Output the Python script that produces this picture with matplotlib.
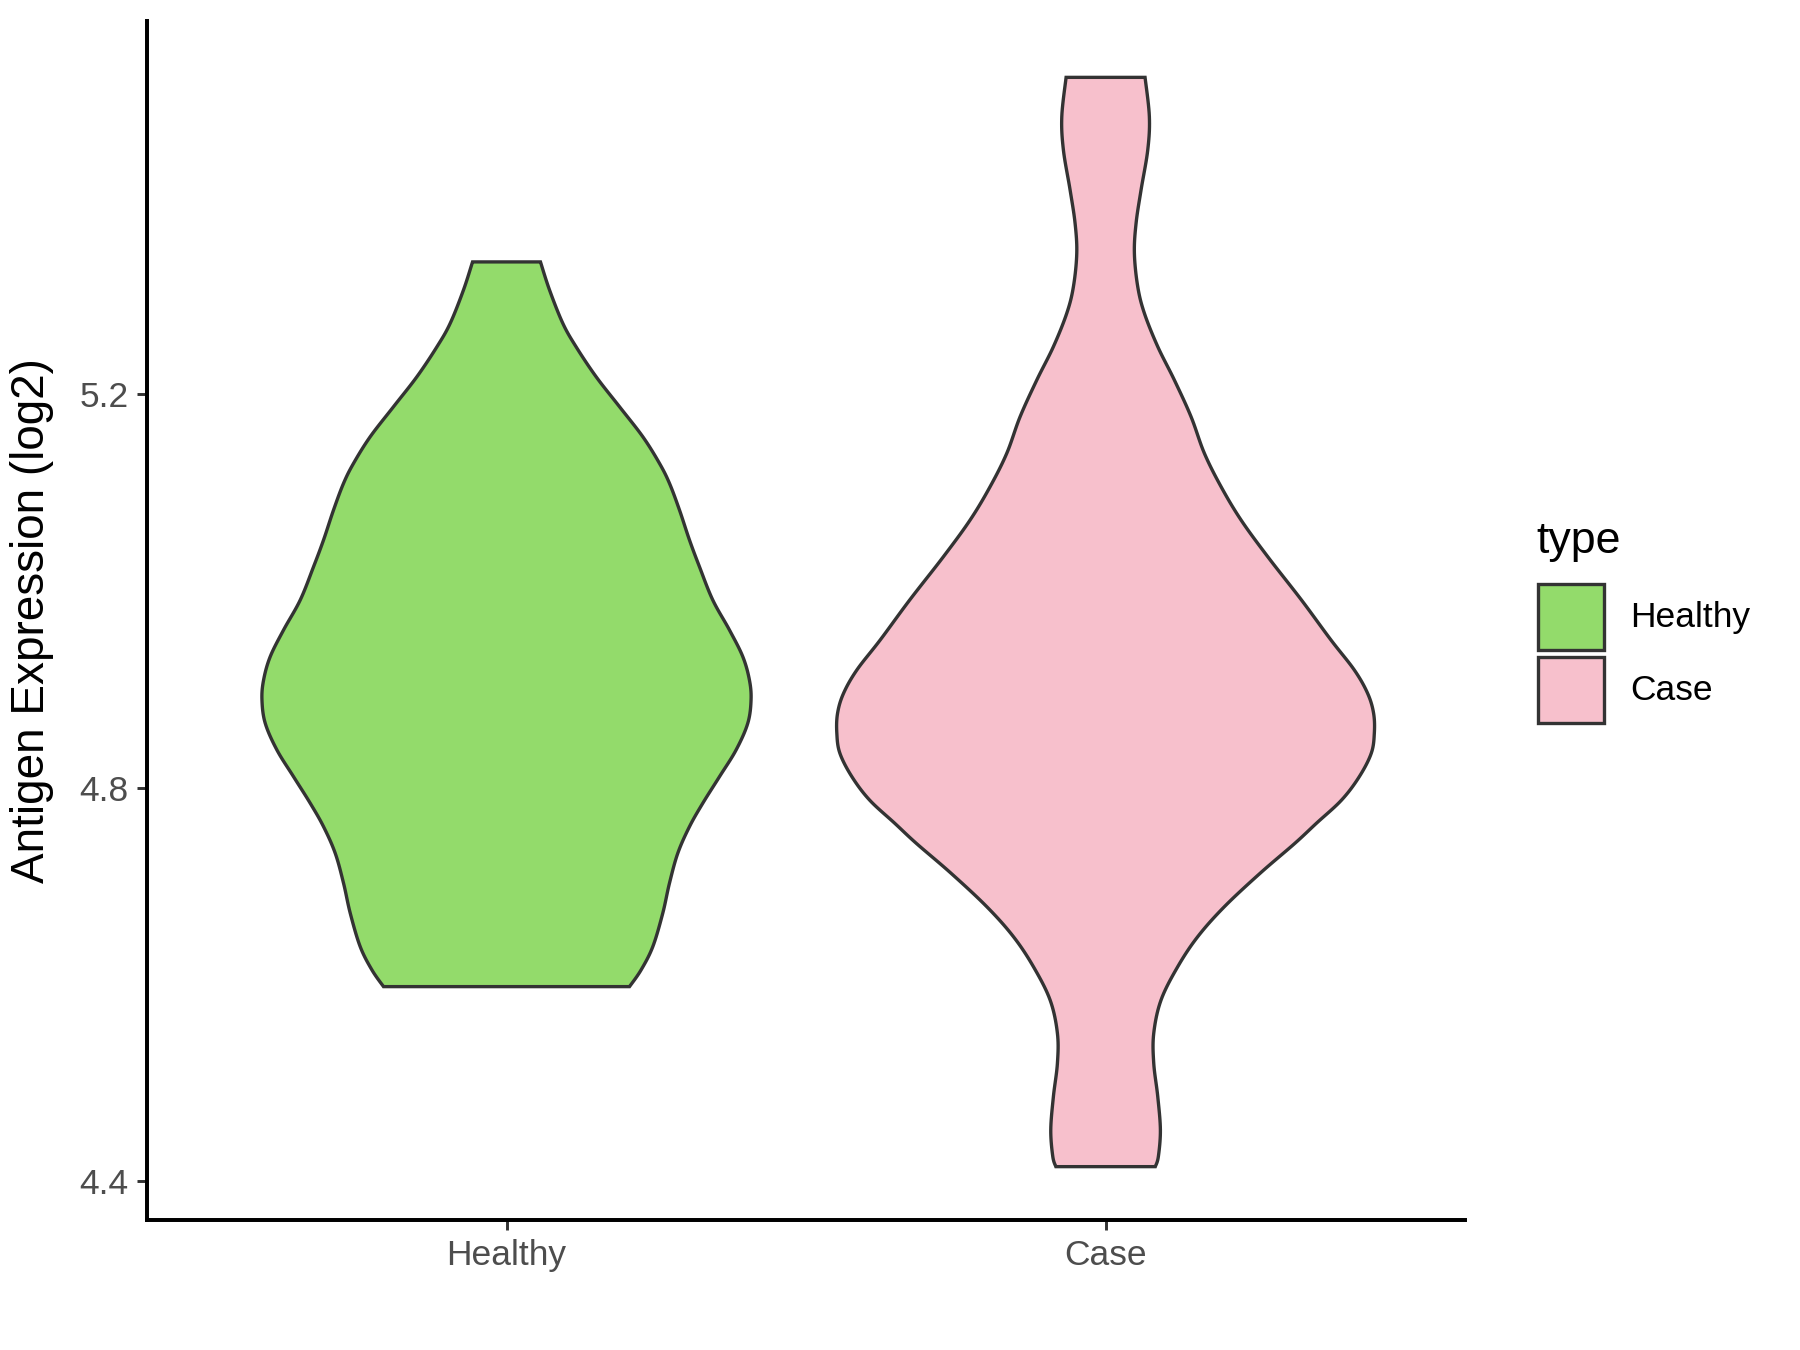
"""Violin plot of antigen expression (log2), Healthy vs Case, ggplot-classic look."""

import matplotlib

matplotlib.use("Agg")

import matplotlib.pyplot as plt
import numpy as np
from matplotlib.patches import Rectangle

plt.rcParams["font.family"] = ["Liberation Sans", "DejaVu Sans"]

# Categories and colours
categories = ["Healthy", "Case"]
fill_colors = ["#93DB6B", "#F7C0CC"]
edge_color = "#333333"

# Violin outlines: expression value -> half width (x units)
healthy_y = [4.5977, 4.6146, 4.6383, 4.6722, 4.7027, 4.7332, 4.7602, 4.7840,
             4.8110, 4.8381, 4.8652, 4.8889, 4.9092, 4.9330, 4.9600, 4.9905,
             5.0243, 5.0515, 5.0820, 5.1091, 5.1294, 5.1564, 5.1869, 5.2174,
             5.2479, 5.2716, 5.3055, 5.3340]
healthy_halfwidth = [0.2053, 0.2246, 0.2442, 0.2608, 0.2720, 0.2859, 0.3054, 0.3276,
                     0.3555, 0.3832, 0.4027, 0.4082, 0.4055, 0.3944, 0.3722, 0.3443,
                     0.3221, 0.3054, 0.2887, 0.2720, 0.2553, 0.2275, 0.1886, 0.1495,
                     0.1160, 0.0940, 0.0718, 0.0567]

case_y = [4.4148, 4.4250, 4.4521, 4.4860, 4.5198, 4.5503, 4.5841, 4.6180,
          4.6485, 4.6789, 4.7129, 4.7433, 4.7637, 4.7873, 4.8110, 4.8348,
          4.8550, 4.8754, 4.8957, 4.9194, 4.9499, 4.9905, 5.0345, 5.0718,
          5.1056, 5.1396, 5.1767, 5.2140, 5.2479, 5.2818, 5.3088, 5.3427,
          5.3732, 5.4070, 5.4477, 5.4815, 5.5215]
case_halfwidth = [0.0830, 0.0881, 0.0915, 0.0871, 0.0804, 0.0804, 0.0926, 0.1205,
                  0.1539, 0.1983, 0.2580, 0.3160, 0.3520, 0.3940, 0.4235, 0.4435,
                  0.4486, 0.4474, 0.4374, 0.4152, 0.3762, 0.3270, 0.2707, 0.2261,
                  0.1928, 0.1649, 0.1427, 0.1148, 0.0871, 0.0648, 0.0537, 0.0481,
                  0.0509, 0.0592, 0.0704, 0.0731, 0.0659]

y_ticks = [4.4, 4.8, 5.2]


def _smooth(ys, ws, n=10):
    """Catmull-Rom curve through the read outline points (for drawing only)."""
    pts = np.column_stack([ys, ws])
    P = np.vstack([pts[0], pts, pts[-1]])
    t = np.linspace(0, 1, n, endpoint=False)[:, None]
    out = []
    for i in range(1, len(P) - 2):
        p0, p1, p2, p3 = P[i - 1], P[i], P[i + 1], P[i + 2]
        seg = 0.5 * (2 * p1 + (-p0 + p2) * t
                     + (2 * p0 - 5 * p1 + 4 * p2 - p3) * t ** 2
                     + (-p0 + 3 * p1 - 3 * p2 + p3) * t ** 3)
        out.append(seg)
    out.append(pts[-1:])
    curve = np.vstack(out)
    return curve[:, 0], curve[:, 1]


def _draw_violin(ax, center, ys, ws, color):
    sy, sw = _smooth(ys, ws)
    xs = np.concatenate([center - sw, (center + sw)[::-1]])
    yy = np.concatenate([sy, sy[::-1]])
    ax.fill(xs, yy, facecolor=color, edgecolor=edge_color, linewidth=1.6,
            joinstyle="miter", zorder=2)


fig = plt.figure(figsize=(12, 9), dpi=150, facecolor="white")
ax = fig.add_axes([0.0817, 0.0963, 0.7322, 0.8881])

_draw_violin(ax, 1, healthy_y, healthy_halfwidth, fill_colors[0])
_draw_violin(ax, 2, case_y, case_halfwidth, fill_colors[1])

ax.set_xlim(0.4, 2.6)
ax.set_ylim(4.3606, 5.5787)
ax.set_xticks([1, 2])
ax.set_xticklabels(categories)
ax.set_yticks(y_ticks)
ax.set_yticklabels([f"{v:.1f}" for v in y_ticks])

for side in ("top", "right"):
    ax.spines[side].set_visible(False)
for side in ("left", "bottom"):
    ax.spines[side].set_linewidth(1.9)
    ax.spines[side].set_color("black")
    ax.spines[side].set_capstyle("projecting")

ax.tick_params(axis="both", length=5, width=1.4, color="#333333",
               labelsize=17, labelcolor="#4D4D4D", pad=4)
ax.set_ylabel("Antigen Expression (log2)", fontsize=22, color="black", labelpad=12)

# Legend drawn in figure pixels (1800 x 1350)
W, H = 1800, 1350
fig.text(1536 / W, 1 - 541 / H, "type", fontsize=21.5, color="black",
         ha="left", va="center")
key_top = [584, 657]
for top, cat, col in zip(key_top, categories, fill_colors):
    fig.patches.append(Rectangle((1538 / W, 1 - (top + 66) / H), 66 / W, 66 / H,
                                 transform=fig.transFigure, facecolor=col,
                                 edgecolor=edge_color, linewidth=1.6))
    fig.text(1630 / W, 1 - (top + 33) / H, cat, fontsize=17, color="black",
             ha="left", va="center")

fig.savefig("out.png", dpi=150, facecolor="white")
